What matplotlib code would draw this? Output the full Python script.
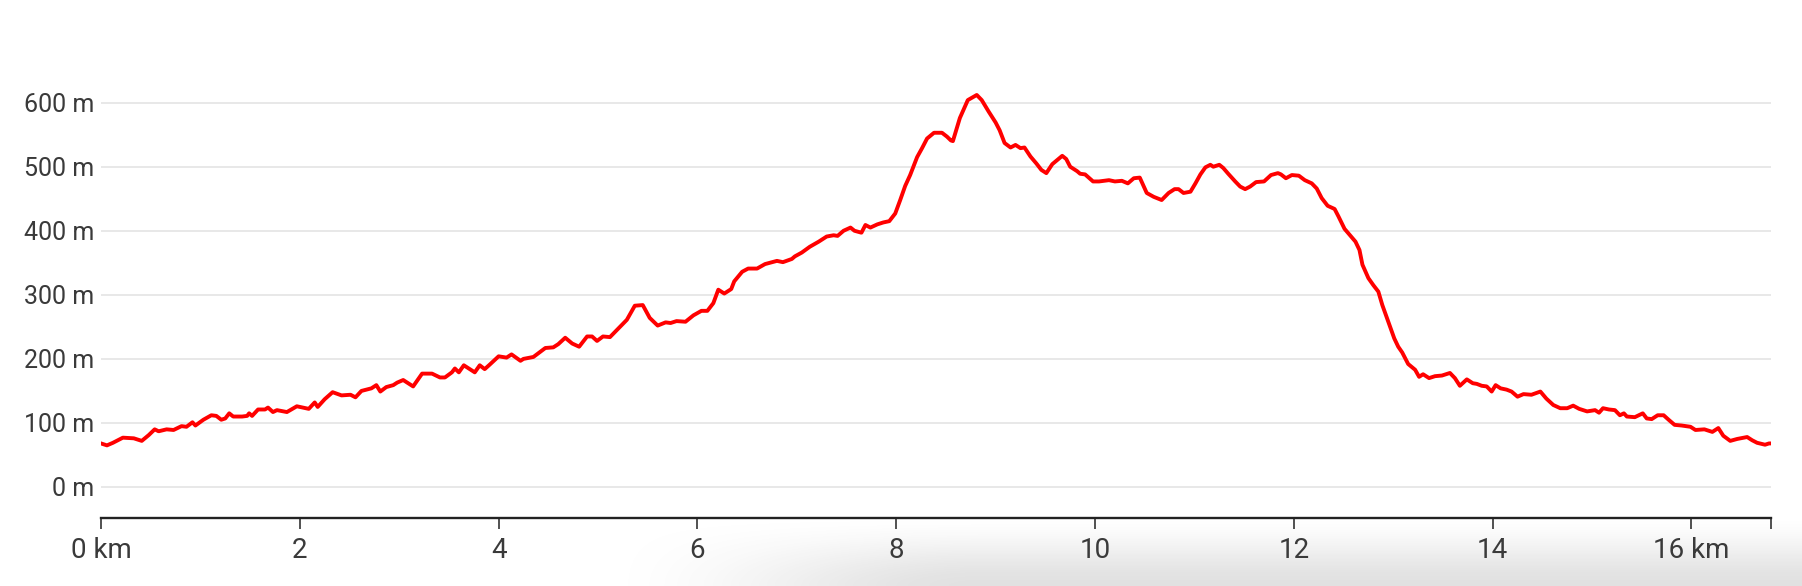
import numpy as np
import matplotlib
matplotlib.use("Agg")
import matplotlib.pyplot as plt

# elevation profile (km, m)
dist_km = [0.00, 0.06, 0.12, 0.22, 0.33, 0.41, 0.48, 0.54, 0.58, 0.66, 0.73, 0.81, 0.86, 0.92, 0.95,
           1.03, 1.11, 1.16, 1.21, 1.25, 1.29, 1.33, 1.42, 1.47, 1.49, 1.52, 1.58, 1.65, 1.68, 1.73,
           1.77, 1.87, 1.97, 2.09, 2.15, 2.18, 2.25, 2.33, 2.42, 2.51, 2.56, 2.62, 2.72, 2.77, 2.81,
           2.87, 2.94, 2.98, 3.04, 3.08, 3.14, 3.23, 3.33, 3.41, 3.46, 3.53, 3.56, 3.60, 3.65, 3.71,
           3.76, 3.81, 3.86, 3.91, 4.00, 4.08, 4.13, 4.22, 4.25, 4.35, 4.47, 4.55, 4.60, 4.67, 4.74,
           4.81, 4.89, 4.94, 4.99, 5.05, 5.12, 5.22, 5.29, 5.37, 5.45, 5.52, 5.60, 5.68, 5.73, 5.79,
           5.88, 5.96, 6.04, 6.10, 6.16, 6.21, 6.27, 6.34, 6.37, 6.45, 6.51, 6.60, 6.68, 6.75, 6.80,
           6.86, 6.95, 6.98, 7.05, 7.13, 7.22, 7.30, 7.37, 7.41, 7.47, 7.54, 7.58, 7.65, 7.69, 7.74,
           7.81, 7.87, 7.93, 7.99, 8.04, 8.09, 8.14, 8.21, 8.26, 8.31, 8.38, 8.46, 8.51, 8.55, 8.57,
           8.64, 8.72, 8.81, 8.86, 8.93, 9.00, 9.04, 9.09, 9.15, 9.20, 9.25, 9.29, 9.35, 9.41, 9.46,
           9.51, 9.57, 9.67, 9.71, 9.75, 9.82, 9.85, 9.90, 9.98, 10.04, 10.14, 10.20, 10.27, 10.33,
           10.39, 10.45, 10.52, 10.59, 10.67, 10.74, 10.80, 10.84, 10.89, 10.96, 11.01, 11.06, 11.11,
           11.16, 11.19, 11.25, 11.29, 11.34, 11.41, 11.46, 11.51, 11.56, 11.62, 11.70, 11.77, 11.84,
           11.87, 11.92, 11.98, 12.05, 12.11, 12.18, 12.23, 12.28, 12.34, 12.41, 12.45, 12.51, 12.57,
           12.62, 12.66, 12.69, 12.75, 12.80, 12.85, 12.89, 12.95, 13.01, 13.05, 13.09, 13.15, 13.22,
           13.26, 13.30, 13.36, 13.42, 13.49, 13.57, 13.62, 13.67, 13.74, 13.80, 13.84, 13.89, 13.94,
           13.99, 14.03, 14.08, 14.14, 14.19, 14.25, 14.31, 14.39, 14.48, 14.54, 14.61, 14.68, 14.75,
           14.81, 14.87, 14.95, 15.03, 15.07, 15.11, 15.17, 15.23, 15.28, 15.32, 15.35, 15.43, 15.51,
           15.55, 15.60, 15.66, 15.72, 15.77, 15.83, 15.90, 15.99, 16.04, 16.13, 16.21, 16.27, 16.32,
           16.39, 16.46, 16.56, 16.61, 16.66, 16.74, 16.78, 16.80]
elev_m = [68, 65, 69, 77, 76, 72, 81, 90, 87, 90, 89, 95, 94, 101, 96,
          105, 112, 111, 105, 107, 115, 110, 110, 111, 115, 111, 121, 121, 124, 117,
          120, 117, 126, 122, 132, 125, 137, 148, 143, 144, 140, 150, 154, 159, 149,
          156, 159, 163, 167, 163, 157, 177, 177, 171, 171, 179, 185, 179, 190, 184,
          179, 190, 184, 191, 204, 202, 207, 197, 200, 203, 217, 218, 223, 233, 224,
          219, 235, 235, 228, 235, 234, 250, 261, 283, 284, 264, 252, 257, 256, 259,
          258, 268, 275, 275, 287, 308, 302, 309, 321, 336, 341, 341, 348, 351, 353,
          351, 356, 360, 366, 375, 383, 391, 393, 392, 400, 405, 400, 397, 409, 405,
          410, 413, 415, 427, 448, 470, 487, 515, 529, 544, 553, 553, 547, 541, 540,
          576, 604, 612, 604, 586, 569, 557, 537, 530, 534, 529, 530, 516, 505, 495,
          490, 504, 517, 512, 500, 493, 489, 488, 477, 477, 479, 477, 478, 474,
          482, 483, 459, 453, 448, 459, 465, 465, 459, 461, 474, 488, 499,
          503, 500, 503, 498, 489, 477, 469, 465, 469, 476, 477, 487, 490,
          488, 482, 487, 486, 479, 474, 466, 451, 439, 434, 422, 403, 392,
          383, 370, 347, 326, 315, 305, 284, 258, 232, 219, 210, 192, 183,
          172, 176, 170, 173, 174, 178, 170, 158, 168, 162, 161, 158, 157,
          149, 159, 154, 152, 149, 141, 145, 144, 149, 138, 128, 123, 123,
          127, 122, 118, 120, 116, 123, 121, 120, 112, 115, 110, 109, 115,
          107, 106, 112, 112, 105, 97, 96, 94, 89, 90, 86, 92, 80,
          72, 75, 78, 73, 69, 66, 68, 68]

x_ticks = [0, 2, 4, 6, 8, 10, 12, 14, 16, 16.8]
x_labels = ["0 km", "2", "4", "6", "8", "10", "12", "14", "16 km", ""]
y_ticks = [0, 100, 200, 300, 400, 500, 600]
y_labels = ["0 m", "100 m", "200 m", "300 m", "400 m", "500 m", "600 m"]

W, H = 1802, 586
fig = plt.figure(figsize=(W / 100, H / 100), dpi=100, facecolor="white")

# soft grey shadow in the bottom-right corner
bg = fig.add_axes([0, 0, 1, 1], zorder=-1)
xx, yy = np.meshgrid(np.arange(W), np.arange(H))
def smooth(t):
    t = np.clip(t, 0, 1)
    return t * t * (3 - 2 * t)
shade = smooth((yy - 515) / 70.0) * smooth((xx - 600) / 380.0)
rgba = np.zeros((H, W, 4))
rgba[..., :3] = 0.55
rgba[..., 3] = 0.26 * shade
bg.imshow(rgba, aspect="auto", interpolation="bilinear")
bg.axis("off")

ax = fig.add_axes([101 / W, 1 - 518 / H, 1670 / W, (518 - 38.6) / H])
ax.set_facecolor("none")

ax.plot(dist_km, elev_m, color="#ff0000", lw=2.8, solid_joinstyle="round", zorder=3)

ax.set_xlim(0, 16.8)
ax.set_ylim(-48.4, 700)

for v in y_ticks:
    ax.axhline(v, color="#e6e6e6", lw=1.3, zorder=1)

ax.set_yticks(y_ticks)
ax.set_yticklabels(y_labels)
ax.set_xticks(x_ticks)
ax.set_xticklabels(x_labels)

for s in ["top", "right", "left"]:
    ax.spines[s].set_visible(False)
ax.spines["bottom"].set_color("#222222")
ax.spines["bottom"].set_linewidth(1.7)

ax.tick_params(axis="y", length=0, pad=5, labelsize=18, labelcolor="#3a3a3a")
ax.tick_params(axis="x", length=8, width=1.1, color="#222222", pad=6,
               labelsize=20, labelcolor="#3a3a3a")
for lab in ax.get_xticklabels() + ax.get_yticklabels():
    lab.set_fontfamily("Roboto")
    lab.set_fontweight("normal")

fig.savefig("out.png", dpi=100, facecolor="white")
